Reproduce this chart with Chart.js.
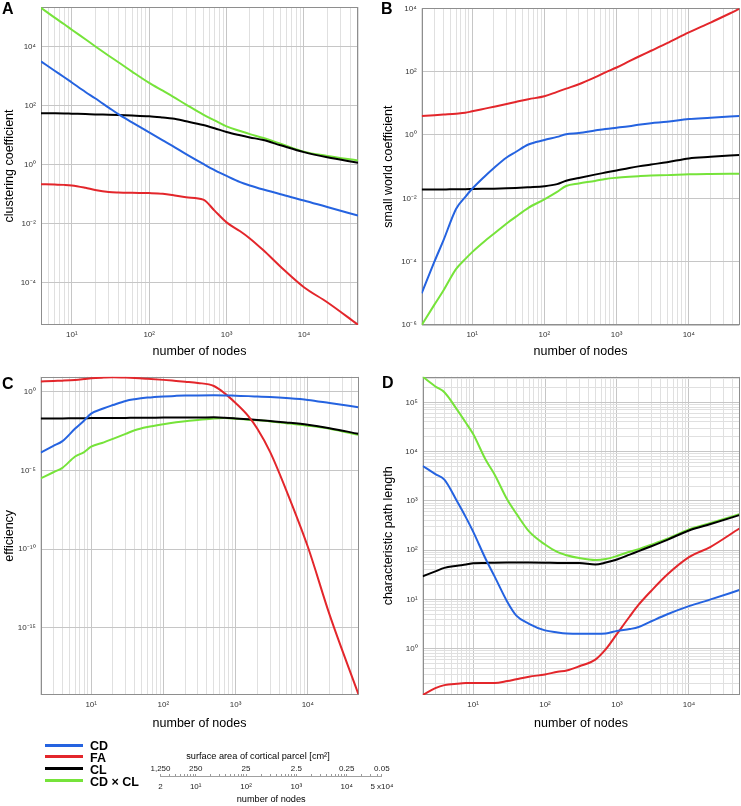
<!DOCTYPE html>
<html>
<head>
<meta charset="utf-8">
<script src="https://cdn.jsdelivr.net/npm/chart.js@4.4.1/dist/chart.umd.min.js"></script>
<style>
  body { margin: 0; background: #fff; font-family: 'Liberation Sans', Arial, sans-serif; }
  #page { position: relative; width: 741px; height: 806px; overflow: hidden; }
  canvas { position: absolute; }
  .tag { position: absolute; font-weight: bold; font-size: 16px; line-height: 16px; color: #000; }
  .key-line { position: absolute; left: 45px; width: 38px; height: 3px; }
  .key-text { position: absolute; left: 90px; font-weight: bold; font-size: 12.5px; line-height: 14px; color: #000; white-space: nowrap; }
  .cap { position: absolute; font-size: 9.2px; line-height: 12px; color: #000; white-space: nowrap; transform: translateX(-50%); }
</style>
</head>
<body>
<div id="page">
  <canvas id="chartA" width="370" height="370" style="left:0;top:0"></canvas>
  <canvas id="chartB" width="371" height="370" style="left:370px;top:0"></canvas>
  <canvas id="chartC" width="370" height="370" style="left:0;top:368px"></canvas>
  <canvas id="chartD" width="371" height="370" style="left:370px;top:368px"></canvas>
  <canvas id="parcelAxis" width="300" height="61" style="left:120px;top:745px"></canvas>

  <div class="tag" style="left:2px;top:1px">A</div>
  <div class="tag" style="left:381px;top:1px">B</div>
  <div class="tag" style="left:2px;top:376px">C</div>
  <div class="tag" style="left:382px;top:375px">D</div>

  <div class="key-line" style="top:743.5px;background:#2563e0"></div>
  <div class="key-text" style="top:739px">CD</div>
  <div class="key-line" style="top:754.5px;background:#e3262b"></div>
  <div class="key-text" style="top:750.5px">FA</div>
  <div class="key-line" style="top:766.5px;background:#000"></div>
  <div class="key-text" style="top:762.5px">CL</div>
  <div class="key-line" style="top:778.5px;background:#76e33a"></div>
  <div class="key-text" style="top:774.5px">CD × CL</div>

  <div class="cap" style="left:258px;top:750px">surface area of cortical parcel [cm²]</div>
</div>

<script>
// number of nodes sampled along each curve
var nodesA = [4, 6, 8, 10, 15, 20, 30, 40, 60, 100, 150, 200, 300, 500, 700, 1000, 1500, 2000, 3000, 5000, 10000, 20000, 50000];
var nodes = [2, 3, 4, 6, 8, 10, 15, 20, 30, 40, 60, 100, 150, 200, 300, 500, 700, 1000, 1500, 2000, 3000, 5000, 10000, 20000, 50000];

// A - clustering coefficient
var clusterCD = [3200, 1550, 930, 620, 295, 180, 87, 52, 27.5, 12.6, 6.8, 4.4, 2.3, 1.07, 0.66, 0.42, 0.26, 0.2, 0.145, 0.1, 0.062, 0.037, 0.019];
var clusterFA = [0.22, 0.214, 0.209, 0.2, 0.166, 0.141, 0.12, 0.115, 0.112, 0.11, 0.105, 0.095, 0.079, 0.066, 0.028, 0.0112, 0.0056, 0.0032, 0.00126, 3.5e-4, 7.1e-5, 2.2e-5, 3.8e-6];
var clusterCL = [56, 55.6, 55, 54, 52.5, 51, 50, 49, 47, 44, 40, 37, 30, 22.4, 17.4, 12.9, 10, 8.5, 6.9, 4.6, 2.7, 1.8, 1.17];
var clusterCDxCL = [2.1e5, 9.8e4, 5.8e4, 3.8e4, 1.8e4, 1.05e4, 5.0e3, 3.0e3, 1.45e3, 600, 325, 210, 110, 50, 32, 20, 14, 11, 8.1, 5.2, 2.8, 2.0, 1.4];

// B - small world coefficient
var swCD = [1.0e-5, 1.0e-4, 4.7e-4, 4.7e-3, 0.011, 0.02, 0.05, 0.091, 0.195, 0.29, 0.5, 0.69, 0.87, 1.05, 1.15, 1.38, 1.55, 1.7, 1.9, 2.1, 2.35, 2.6, 3.2, 3.5, 4.0];
var swFA = [4.0, 4.2, 4.4, 4.7, 5.0, 5.6, 6.8, 7.8, 9.5, 11, 13.5, 16.6, 23, 29, 40, 66, 95, 135, 214, 295, 457, 794, 1740, 3550, 9550];
var swCL = [0.019, 0.019, 0.019, 0.0195, 0.0195, 0.0197, 0.02, 0.0202, 0.0207, 0.0212, 0.0223, 0.024, 0.028, 0.036, 0.044, 0.056, 0.065, 0.076, 0.091, 0.102, 0.117, 0.138, 0.182, 0.204, 0.234];
var swCDxCL = [1.0e-6, 4.4e-6, 1.23e-5, 5.9e-5, 1.2e-4, 2.0e-4, 4.5e-4, 7.6e-4, 1.6e-3, 2.6e-3, 5.0e-3, 9.3e-3, 0.016, 0.0245, 0.0295, 0.0355, 0.041, 0.0447, 0.048, 0.050, 0.0525, 0.054, 0.0575, 0.059, 0.060];

// C - efficiency
var effCD = [1.35e-4, 3.6e-4, 7.2e-4, 4.5e-3, 0.0148, 0.04, 0.089, 0.141, 0.257, 0.33, 0.42, 0.5, 0.54, 0.56, 0.58, 0.59, 0.58, 0.55, 0.52, 0.49, 0.45, 0.39, 0.30, 0.19, 0.102];
var effFA = [4.4, 4.8, 5.0, 5.5, 6.3, 7.1, 7.8, 8.1, 7.8, 7.4, 6.6, 5.6, 4.8, 4.3, 3.6, 2.3, 0.81, 0.19, 0.028, 4.4e-3, 1.5e-4, 5.8e-7, 1.4e-10, 6.8e-15, 6.3e-20];
var effCL = [0.0195, 0.02, 0.02, 0.0204, 0.0204, 0.0209, 0.0209, 0.0214, 0.0214, 0.0219, 0.0219, 0.0224, 0.0224, 0.0229, 0.0229, 0.0234, 0.0222, 0.02, 0.0174, 0.0158, 0.0135, 0.011, 0.0079, 0.0048, 0.0021];
var effCDxCL = [3.1e-6, 7.6e-6, 1.45e-5, 7.6e-5, 1.45e-4, 3.2e-4, 6.0e-4, 1.0e-3, 2.1e-3, 3.5e-3, 5.6e-3, 8.5e-3, 0.0112, 0.0132, 0.0158, 0.0195, 0.021, 0.019, 0.0166, 0.0151, 0.0129, 0.01, 0.0069, 0.0044, 0.0018];

// D - characteristic path length
var pathCD = [5100, 3500, 2700, 980, 457, 240, 66, 29, 8.9, 4.7, 3.2, 2.35, 2.14, 2.04, 2.0, 2.0, 2.04, 2.3, 2.5, 2.75, 3.6, 5.0, 7.3, 10, 15.5];
var pathFA = [0.115, 0.158, 0.182, 0.195, 0.2, 0.2, 0.2, 0.2, 0.22, 0.24, 0.27, 0.30, 0.34, 0.36, 0.44, 0.6, 0.98, 2.0, 4.5, 7.8, 15, 32, 72, 117, 275];
var pathCL = [29.5, 37, 43.6, 48, 51, 54, 55, 55.6, 56, 56, 56, 55.6, 55, 55, 55, 51, 56, 64.6, 81, 95.5, 120, 162, 251, 339, 513];
var pathCDxCL = [3.3e5, 2.1e5, 1.6e5, 7.1e4, 3.8e4, 2.3e4, 6.8e3, 3.4e3, 1.05e3, 550, 240, 130, 91, 79, 69, 63, 66, 76, 93, 105, 129, 170, 263, 355, 537];

// bottom scale: nodes vs. parcel surface area
var parcelNodes = [2, 10, 100, 1000, 10000, 50000];
var parcelNodeLabels = ['2', '10¹', '10²', '10³', '10⁴', '5 x10⁴'];
var parcelArea = ['1,250', '250', '25', '2.5', '0.25', '0.05'];

var blue = '#2563e0', red = '#e3262b', black = '#000000', green = '#76e33a';

Chart.defaults.font.family = "'Liberation Sans', Arial, sans-serif";
Chart.defaults.color = '#333';

function logTicks(min, max, every, minor) {
    var ticks = [];
    for (var e = Math.floor(Math.log10(min)); e <= Math.ceil(Math.log10(max)); e++) {
        for (var m = 1; m <= 9; m++) {
            if (!minor && m > 1) break;
            if (!minor && e % every !== 0) continue;
            var v = m * Math.pow(10, e);
            if (v >= min * 0.9999 && v <= max * 1.0001) ticks.push({value: v});
        }
    }
    return ticks;
}

function isDecade(v) {
    var l = Math.log10(v);
    return Math.abs(l - Math.round(l)) < 1e-6;
}

function sup(v) {
    var digits = {'-': '⁻', '0': '⁰', '1': '¹', '2': '²', '3': '³', '4': '⁴', '5': '⁵', '6': '⁶', '7': '⁷', '8': '⁸', '9': '⁹'};
    var e = String(Math.round(Math.log10(v)));
    return '10' + e.split('').map(function(c) { return digits[c]; }).join('');
}

function gridColor(ctx) {
    return ctx.tick && isDecade(ctx.tick.value) ? '#c6c6c6' : '#e0e0e0';
}

var boxFrame = {
    id: 'boxFrame',
    beforeDatasetsDraw: function(chart) {
        var a = chart.chartArea, c = chart.ctx;
        c.save();
        c.strokeStyle = '#8e8e8e';
        c.lineWidth = 1;
        c.strokeRect(Math.round(a.left) + 0.5, Math.round(a.top) + 0.5, Math.round(a.right - a.left) - 1, Math.round(a.bottom - a.top) - 1);
        c.restore();
    }
};

function series(label, xs, ys, color) {
    return {
        label: label,
        data: xs.map(function(x, i) { return {x: x, y: ys[i]}; }),
        borderColor: color,
        backgroundColor: color,
        borderWidth: 2,
        pointRadius: 0,
        cubicInterpolationMode: 'monotone',
        fill: false
    };
}

function panel(id, p) {
    var ctx = document.getElementById(id).getContext('2d');
    return new Chart(ctx, {
        type: 'line',
        data: {
            datasets: [
                series('CD', p.nodes, p.cd, blue),
                series('FA', p.nodes, p.fa, red),
                series('CL', p.nodes, p.cl, black),
                series('CD × CL', p.nodes, p.cdcl, green)
            ]
        },
        options: {
            responsive: false,
            animation: false,
            devicePixelRatio: 1,
            layout: {padding: {top: p.padTop, right: p.padRight, left: 0, bottom: 0}},
            plugins: {legend: {display: false}, tooltip: {enabled: false}},
            scales: {
                x: {
                    type: 'logarithmic',
                    bounds: 'data',
                    min: p.xMin,
                    max: 5e4,
                    afterBuildTicks: function(s) { s.ticks = logTicks(p.xMin, 5e4, 1, true); },
                    afterFit: function(s) { s.height = p.xHeight; s.paddingLeft = 0; s.paddingRight = 0; },
                    grid: {color: gridColor, drawTicks: false},
                    border: {display: false},
                    ticks: {
                        autoSkip: false, maxRotation: 0, padding: 5,
                        font: {size: 8},
                        callback: function(v) { return isDecade(v) ? sup(v) : ''; }
                    },
                    title: {display: true, text: 'number of nodes', color: '#000', font: {size: 12.5}, padding: {top: 0, bottom: p.xTitlePad}}
                },
                y: {
                    type: 'logarithmic',
                    bounds: 'data',
                    min: p.yMin,
                    max: p.yMax,
                    afterBuildTicks: function(s) { s.ticks = logTicks(p.yMin, p.yMax, p.yEvery, p.yMinor); },
                    afterFit: function(s) { s.width = p.yWidth; s.paddingTop = 0; s.paddingBottom = 0; },
                    grid: {color: gridColor, drawTicks: false},
                    border: {display: false},
                    ticks: {
                        autoSkip: false, padding: 5,
                        font: {size: 8},
                        callback: function(v) { return isDecade(v) ? sup(v) : ''; }
                    },
                    title: {display: true, text: p.title, color: '#000', font: {size: 12.5}, padding: {top: p.yTitlePad, bottom: 0}}
                }
            }
        },
        plugins: [boxFrame]
    });
}

panel('chartA', {
    nodes: nodesA, cd: clusterCD, fa: clusterFA, cl: clusterCL, cdcl: clusterCDxCL,
    title: 'clustering coefficient',
    xMin: 4, yMin: Math.pow(10, -5.43), yMax: Math.pow(10, 5.35), yEvery: 2, yMinor: false,
    padTop: 7, padRight: 12, yWidth: 41, xHeight: 45, xTitlePad: 10.8, yTitlePad: 1.8
});

panel('chartB', {
    nodes: nodes, cd: swCD, fa: swFA, cl: swCL, cdcl: swCDxCL,
    title: 'small world coefficient',
    xMin: 2, yMin: 1e-6, yMax: 1e4, yEvery: 2, yMinor: false,
    padTop: 8.3, padRight: 1.7, yWidth: 51.7, xHeight: 45, xTitlePad: 10.8, yTitlePad: 10.8
});

panel('chartC', {
    nodes: nodes, cd: effCD, fa: effFA, cl: effCL, cdcl: effCDxCL,
    title: 'efficiency',
    xMin: 2, yMin: Math.pow(10, -19.27), yMax: Math.pow(10, 0.95), yEvery: 5, yMinor: false,
    padTop: 8.7, padRight: 11.7, yWidth: 40.7, xHeight: 43, xTitlePad: 7.2, yTitlePad: 1.8
});

panel('chartD', {
    nodes: nodes, cd: pathCD, fa: pathFA, cl: pathCL, cdcl: pathCDxCL,
    title: 'characteristic path length',
    xMin: 2, yMin: Math.pow(10, -0.94), yMax: Math.pow(10, 5.52), yEvery: 1, yMinor: true,
    padTop: 8.7, padRight: 1.7, yWidth: 52.7, xHeight: 43, xTitlePad: 7.2, yTitlePad: 10.8
});

// conversion scale under the legend
var ctxP = document.getElementById('parcelAxis').getContext('2d');
new Chart(ctxP, {
    type: 'line',
    data: {datasets: []},
    options: {
        responsive: false,
        animation: false,
        devicePixelRatio: 1,
        layout: {padding: {left: 40.5, right: 38.1, top: 0, bottom: 0}},
        plugins: {legend: {display: false}, tooltip: {enabled: false}},
        scales: {
            y: {display: false},
            x: {
                type: 'logarithmic', position: 'bottom', bounds: 'data', min: 2, max: 5e4,
                afterBuildTicks: function(s) { s.ticks = parcelNodes.map(function(v) { return {value: v}; }); },
                afterFit: function(s) { s.height = 29; s.paddingLeft = 0; s.paddingRight = 0; },
                grid: {display: false, drawTicks: false},
                border: {display: false},
                ticks: {
                    autoSkip: false, maxRotation: 0, padding: 5, font: {size: 8}, color: '#222',
                    callback: function(v) { return parcelNodeLabels[parcelNodes.indexOf(v)]; }
                },
                title: {display: true, text: 'number of nodes', color: '#000', font: {size: 9.2}, padding: {top: 0, bottom: 1}}
            },
            x2: {
                type: 'logarithmic', position: 'top', bounds: 'data', min: 2, max: 5e4,
                afterBuildTicks: function(s) { s.ticks = logTicks(2, 5e4, 1, true); },
                afterFit: function(s) { s.height = 31; s.paddingLeft = 0; s.paddingRight = 0; },
                grid: {drawOnChartArea: false, drawTicks: true, tickLength: 2, color: '#9a9a9a'},
                border: {display: true, color: '#a0a0a0'},
                ticks: {
                    autoSkip: false, maxRotation: 0, padding: 0, font: {size: 8}, color: '#222',
                    callback: function(v) {
                        var i = parcelNodes.indexOf(v);
                        return i >= 0 ? parcelArea[i] : '';
                    }
                }
            }
        }
    }
});
</script>
</body>
</html>
